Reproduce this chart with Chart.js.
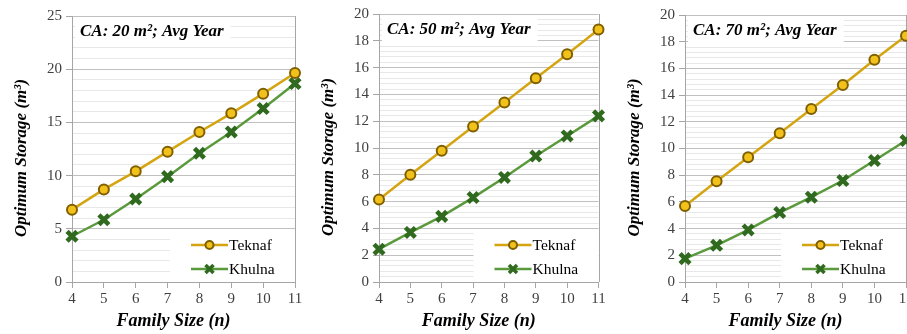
<!DOCTYPE html>
<html>
<head>
<meta charset="utf-8">
<script src="https://cdn.jsdelivr.net/npm/chart.js@4.4.1/dist/chart.umd.min.js"></script>
<style>
  html, body { margin: 0; padding: 0; background: #fff; overflow: hidden; }
  body { width: 907px; height: 334px; position: relative; }
  canvas { position: absolute; top: 0; }
</style>
</head>
<body>
<canvas id="c20" width="310" height="334" style="left:0px"></canvas>
<canvas id="c50" width="310" height="334" style="left:300px"></canvas>
<canvas id="c70" width="320" height="334" style="left:606px"></canvas>
<script>
const familySize = ['4', '5', '6', '7', '8', '9', '10', '11'];

const teknaf20 = [6.8, 8.7, 10.4, 12.25, 14.1, 15.85, 17.7, 19.65];
const khulna20 = [4.3, 5.85, 7.8, 9.9, 12.1, 14.1, 16.3, 18.65];

const teknaf50 = [6.15, 8.0, 9.8, 11.6, 13.4, 15.2, 17.0, 18.85];
const khulna50 = [2.45, 3.7, 4.9, 6.3, 7.8, 9.4, 10.9, 12.4];

const teknaf70 = [5.7, 7.55, 9.35, 11.15, 12.95, 14.75, 16.65, 18.45];
const khulna70 = [1.75, 2.75, 3.9, 5.2, 6.35, 7.6, 9.1, 10.6];

const xTitle = 'Family Size (n)';
const yTitle = 'Optimum Storage (m³)';

const serif = "'Liberation Serif', 'Times New Roman', serif";
const axisGrey = '#a6a6a6';

// caption box, legend box, frame and axis titles
const panelDecor = {
    id: 'panelDecor',
    beforeDatasetsDraw(chart) {
        const { ctx, chartArea } = chart;
        const opts = chart.options.plugins.panelDecor;
        ctx.save();

        // right frame line
        ctx.strokeStyle = axisGrey;
        ctx.lineWidth = 1;
        ctx.beginPath();
        ctx.moveTo(Math.round(chartArea.right) + 0.5, chartArea.top);
        ctx.lineTo(Math.round(chartArea.right) + 0.5, chartArea.bottom);
        ctx.stroke();

        // caption
        ctx.font = 'italic bold 17px ' + serif;
        const tw = ctx.measureText(opts.caption).width;
        const bx = chartArea.left + 3, by = chartArea.top + 4;
        ctx.fillStyle = '#fff';
        ctx.fillRect(bx, by, tw + 12, 24);
        ctx.fillStyle = '#000';
        ctx.textBaseline = 'middle';
        ctx.fillText(opts.caption, bx + 5, by + 12);

        // legend
        const lw = 125, lh = 50;
        const lx = chartArea.right - lw, ly = chartArea.bottom - lh - 1;
        ctx.fillStyle = '#fff';
        ctx.fillRect(lx, ly, lw, lh);
        ctx.font = '15.5px ' + serif;
        chart.data.datasets.forEach((ds, i) => {
            const y = ly + 14 + i * 24;
            const x0 = lx + 21, x1 = x0 + 37;
            ctx.strokeStyle = ds.borderColor;
            ctx.lineWidth = 2.5;
            ctx.beginPath();
            ctx.moveTo(x0, y);
            ctx.lineTo(x1, y);
            ctx.stroke();
            const cx = (x0 + x1) / 2;
            ctx.strokeStyle = ds.pointBorderColor;
            ctx.fillStyle = ds.pointBackgroundColor;
            if (ds.pointStyle === 'circle') {
                ctx.lineWidth = 2;
                ctx.beginPath();
                ctx.arc(cx, y, 4, 0, Math.PI * 2);
                ctx.fill();
                ctx.stroke();
            } else {
                ctx.lineWidth = 3.5;
                ctx.beginPath();
                ctx.moveTo(cx - 4, y - 4); ctx.lineTo(cx + 4, y + 4);
                ctx.moveTo(cx - 4, y + 4); ctx.lineTo(cx + 4, y - 4);
                ctx.stroke();
            }
            ctx.fillStyle = '#000';
            ctx.fillText(ds.label, x1 + 1, y + 1);
        });

        // axis titles
        ctx.fillStyle = '#000';
        ctx.font = 'italic bold 18px ' + serif;
        ctx.textAlign = 'center';
        ctx.fillText(xTitle, (chartArea.left + chartArea.right) / 2 - 10, chartArea.bottom + 39);
        ctx.translate(chartArea.left - 50, (chartArea.top + chartArea.bottom) / 2 + 9);
        ctx.rotate(-Math.PI / 2);
        ctx.font = 'italic bold 17px ' + serif;
        ctx.fillText(yTitle, 0, 0);
        ctx.restore();
    }
};

function isMajor(v, major) {
    return Math.abs(v / major - Math.round(v / major)) < 1e-6;
}

function makePanel(id, caption, teknaf, khulna, yMax, major, pad, yWidth) {
    const minor = major / 5;
    return new Chart(document.getElementById(id), {
        type: 'line',
        data: {
            labels: familySize,
            datasets: [{
                label: 'Teknaf',
                data: teknaf,
                borderColor: '#d4a511',
                borderWidth: 2.5,
                pointStyle: 'circle',
                pointRadius: 5,
                pointBorderWidth: 2,
                pointBackgroundColor: '#f2c21b',
                pointBorderColor: '#7f5f00',
                tension: 0,
            }, {
                label: 'Khulna',
                data: khulna,
                borderColor: '#5a9a3c',
                borderWidth: 2.5,
                pointStyle: 'crossRot',
                pointRadius: 7,
                pointBorderWidth: 4.5,
                pointBackgroundColor: '#2f6a1f',
                pointBorderColor: '#2f6a1f',
                tension: 0,
            }],
        },
        options: {
            responsive: false,
            animation: false,
            devicePixelRatio: 1,
            layout: { padding: pad },
            plugins: {
                legend: { display: false },
                tooltip: { enabled: false },
                panelDecor: { caption: caption },
            },
            scales: {
                x: {
                    type: 'category',
                    offset: false,
                    afterFit: (s) => { s.height = 52; },
                    grid: { drawOnChartArea: false, tickLength: 6, tickColor: axisGrey },
                    border: { color: axisGrey },
                    ticks: { color: '#404040', font: { family: serif, size: 15 }, padding: 2, autoSkip: false, maxRotation: 0 },
                },
                y: {
                    min: 0,
                    max: yMax,
                    afterFit: (s) => { s.width = yWidth; },
                    grid: {
                        color: (c) => isMajor(c.tick.value, major) ? '#c0c0c0' : '#e8e8e8',
                        tickColor: (c) => isMajor(c.tick.value, major) ? axisGrey : 'rgba(0,0,0,0)',
                        tickLength: 6,
                    },
                    border: { color: axisGrey },
                    ticks: {
                        stepSize: minor,
                        maxTicksLimit: 200,
                        autoSkip: false,
                        color: '#404040',
                        font: { family: serif, size: 15 },
                        padding: 4,
                        callback: (v) => isMajor(v, major) ? String(Math.round(v)) : '',
                    },
                },
            },
        },
        plugins: [panelDecor],
    });
}

makePanel('c20', 'CA: 20 m²; Avg Year', teknaf20, khulna20, 25, 5,
    { left: 12, right: 15, top: 16, bottom: 0 }, 60);
makePanel('c50', 'CA: 50 m²; Avg Year', teknaf50, khulna50, 20, 2,
    { left: 18, right: 11, top: 14, bottom: 0 }, 61);
makePanel('c70', 'CA: 70 m²; Avg Year', teknaf70, khulna70, 20, 2,
    { left: 18, right: 20, top: 15, bottom: 0 }, 61);
</script>
</body>
</html>
